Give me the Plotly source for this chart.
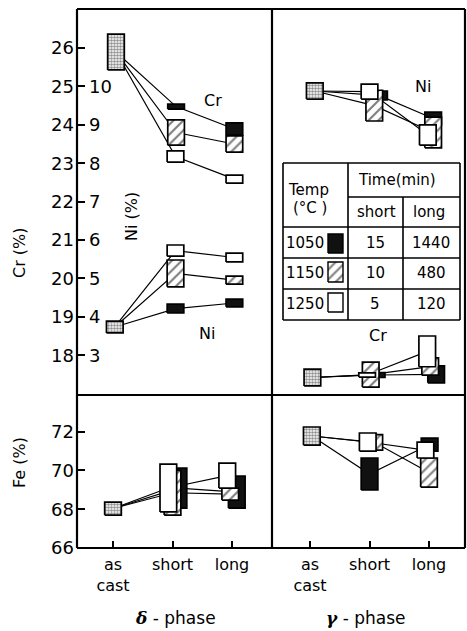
import plotly.graph_objects as go

# ---------------- data ----------------
CATEGORIES = ["as<br>cast", "short", "long"]
TEMPS = ["1050", "1150", "1250"]          # deg C
TIME_SHORT = ["15", "10", "5"]            # min
TIME_LONG = ["1440", "480", "120"]        # min

# composition ranges [low, high]; per-temperature rows: 1050, 1150, 1250
delta_cr_ascast = [25.43, 26.36]
delta_cr_short = [[24.41, 24.54], [23.47, 24.13], [23.03, 23.32]]
delta_cr_long = [[23.73, 24.05], [23.29, 23.71], [22.48, 22.69]]

delta_ni_ascast = [3.58, 3.89]
delta_ni_short = [[4.10, 4.33], [4.78, 5.48], [5.58, 5.87]]
delta_ni_long = [[4.26, 4.46], [4.85, 5.06], [5.43, 5.66]]

delta_fe_ascast = [67.70, 68.37]
delta_fe_short = [[68.06, 70.12], [67.70, 70.00], [67.86, 70.33]]
delta_fe_long = [[68.06, 69.71], [68.47, 69.09], [69.09, 70.38]]

gamma_ni_ascast = [9.67, 10.09]
gamma_ni_short = [[9.65, 9.88], [9.10, 9.90], [9.67, 10.06]]
gamma_ni_long = [[9.00, 9.33], [8.40, 9.20], [8.47, 9.00]]

gamma_cr_ascast = [17.20, 17.64]
gamma_cr_short = [[17.42, 17.55], [17.17, 17.82], [17.43, 17.54]]
gamma_cr_long = [[17.28, 17.72], [17.48, 17.93], [17.70, 18.50]]

gamma_fe_ascast = [71.31, 72.24]
gamma_fe_short = [[68.99, 70.64], [71.05, 71.85], [71.00, 71.93]]
gamma_fe_long = [[71.00, 71.67], [69.14, 70.64], [70.64, 71.46]]

CR_TICKS = [18, 19, 20, 21, 22, 23, 24, 25, 26]
NI_TICKS = [3, 4, 5, 6, 7, 8, 9, 10]
FE_TICKS = [66, 68, 70, 72]

# ---------------- layout / style ----------------
W, H = 467, 631
L, R, T, B = 77, 465, 9, 548
DIV_X, DIV_Y = 272, 395
XSPLIT = (DIV_X - L) / (R - L)
YSPLIT = (B - DIV_Y) / (B - T)
CR_RANGE = [16.964, 27.016]
NI_RANGE = [CR_RANGE[0] - 15, CR_RANGE[1] - 15]
FE_RANGE = [66, 73.89]
XD_RANGE = [-0.605, 2.672]
XG_RANGE = [-0.639, 2.605]
BOX_W = 0.28
FONT = "DejaVu Sans"

# horizontal offsets of boxes (style only): as cast, short[3], long[3]
OFFS = {
    "d_cr": (0.05, [0.06, 0.06, 0.05], [0.04, 0.04, 0.04]),
    "d_ni": (0.03, [0.05, 0.05, 0.05], [0.04, 0.04, 0.04]),
    "d_fe": (0.0, [0.10, 0.0, -0.07], [0.08, -0.03, -0.08]),
    "g_ni": (0.08, [0.16, 0.08, 0.0], [0.07, 0.07, -0.02]),
    "g_cr": (0.04, [0.12, 0.02, -0.04], [0.12, 0.02, -0.03]),
    "g_fe": (0.03, [0.0, 0.08, -0.03], [0.01, 0.0, -0.06]),
}


def box_style(kind):
    if kind == "ascast":
        return dict(fillcolor="white",
                    fillpattern=dict(shape=".", fgcolor="#222", bgcolor="white",
                                     size=3, solidity=0.55))
    if kind == 0:
        return dict(fillcolor="#111111")
    if kind == 1:
        return dict(fillcolor="white",
                    fillpattern=dict(shape="/", fgcolor="black", bgcolor="white",
                                     size=7, solidity=0.3))
    return dict(fillcolor="white")


fig = go.Figure()


def add_box(xc, lo, hi, kind, xa, ya, w=BOX_W):
    fig.add_trace(go.Scatter(
        x=[xc - w / 2, xc + w / 2, xc + w / 2, xc - w / 2, xc - w / 2],
        y=[lo, lo, hi, hi, lo], mode="lines", fill="toself",
        line=dict(color="black", width=1.7), xaxis=xa, yaxis=ya,
        hoverinfo="skip", showlegend=False, **box_style(kind)))


def mid(r):
    return (r[0] + r[1]) / 2


def add_panel(key, ascast, short, long_, xa, ya):
    oa, os_, ol = OFFS[key]
    # connecting lines first (boxes drawn over them)
    for i in range(3):
        fig.add_trace(go.Scatter(
            x=[0 + oa, 1 + os_[i], 2 + ol[i]],
            y=[mid(ascast), mid(short[i]), mid(long_[i])],
            mode="lines", line=dict(color="black", width=1.2),
            xaxis=xa, yaxis=ya, hoverinfo="skip", showlegend=False))
    add_box(0 + oa, ascast[0], ascast[1], "ascast", xa, ya)
    for i in range(3):
        add_box(1 + os_[i], short[i][0], short[i][1], i, xa, ya)
    for i in range(3):
        add_box(2 + ol[i], long_[i][0], long_[i][1], i, xa, ya)


add_panel("d_cr", delta_cr_ascast, delta_cr_short, delta_cr_long, "x", "y")
add_panel("d_ni", delta_ni_ascast, delta_ni_short, delta_ni_long, "x", "y3")
add_panel("d_fe", delta_fe_ascast, delta_fe_short, delta_fe_long, "x", "y2")
add_panel("g_cr", gamma_cr_ascast, gamma_cr_short, gamma_cr_long, "x2", "y")
add_panel("g_ni", gamma_ni_ascast, gamma_ni_short, gamma_ni_long, "x2", "y3")
add_panel("g_fe", gamma_fe_ascast, gamma_fe_short, gamma_fe_long, "x2", "y2")


# pixel helpers for the legend table (layout only)
def pxx(px):
    return (px - L) / (R - L)


def pxy(py):
    return (B - py) / (B - T)


def gx(px):  # pixel -> gamma x data
    return XG_RANGE[0] + (px - DIV_X) / (R - DIV_X) * (XG_RANGE[1] - XG_RANGE[0])


def gy(py):  # pixel -> Cr data
    top, bot = T, DIV_Y
    return CR_RANGE[1] - (py - top) / (bot - top) * (CR_RANGE[1] - CR_RANGE[0])


# table swatches
SW_X = (328, 343)
SW_Y = [(234, 253), (262, 282), (293, 312)]
for i in range(3):
    x0, x1 = gx(SW_X[0]), gx(SW_X[1])
    y0, y1 = gy(SW_Y[i][1]), gy(SW_Y[i][0])
    fig.add_trace(go.Scatter(
        x=[x0, x1, x1, x0, x0], y=[y0, y0, y1, y1, y0], mode="lines",
        fill="toself", line=dict(color="black", width=1.4), xaxis="x2",
        yaxis="y", hoverinfo="skip", showlegend=False, **box_style(i)))

shapes = []
LW = 2.2


def line(x0, y0, x1, y1, w=LW):
    shapes.append(dict(type="line", xref="paper", yref="paper",
                       x0=pxx(x0), y0=pxy(y0), x1=pxx(x1), y1=pxy(y1),
                       line=dict(color="black", width=w)))


# frame
line(L, T, R, T)
line(L, B, R, B)
line(L, T, L, B)
line(R, T, R, B)
line(DIV_X, T, DIV_X, B)
line(L, DIV_Y, R, DIV_Y)

# table grid
TL, TR, TC1, TC2 = 283, 460, 348, 403
TROWS = [163, 227, 258, 289, 320]
TW = 1.6
line(TL, TROWS[0], TR, TROWS[0], TW)
for yy in TROWS[1:]:
    line(TL, yy, TR, yy, TW)
line(TC1, 197, TR, 197, TW)
line(TL, TROWS[0], TL, TROWS[-1], TW)
line(TR, TROWS[0], TR, TROWS[-1], TW)
line(TC1, TROWS[0], TC1, TROWS[-1], TW)
line(TC2, 197, TC2, TROWS[-1], TW)

ann = []


def text(px, py, s, size=15, angle=0, xanchor="center"):
    ann.append(dict(x=pxx(px), y=pxy(py), xref="paper", yref="paper", text=s,
                    showarrow=False, textangle=angle, xanchor=xanchor,
                    yanchor="middle", font=dict(family=FONT, size=size, color="black")))


text(308, 190, "Temp")
text(310, 208, "(°C )")
text(397, 180, "Time(min)")
text(376, 212, "short")
text(429, 212, "long")
row_y = [243, 273, 304]
for i in range(3):
    text(284, row_y[i], TEMPS[i], xanchor="left")
    text(375, row_y[i], TIME_SHORT[i])
    text(431, row_y[i], TIME_LONG[i])

text(213, 101, "Cr", 16)
text(207, 333, "Ni", 16)
text(423, 86, "Ni", 16)
text(378, 335, "Cr", 16)
text(19, 253, "Cr (%)", 16, -90)
text(132, 217, "Ni (%)", 16, -90)
text(19, 463, "Fe (%)", 16, -90)
text(175, 618, "<span style='font-family:DejaVu Serif'><b><i>δ</i></b></span> - phase", 17)
text(365, 618, "<span style='font-family:DejaVu Serif'><b><i>γ</i></b></span> - phase", 17)

tickfont = dict(family=FONT, size=18, color="black")
xcommon = dict(tickmode="array", tickvals=[0, 1, 2], ticktext=CATEGORIES,
               ticks="inside", ticklen=7, tickwidth=1.5, tickcolor="black",
               showgrid=False, zeroline=False, showline=False, anchor="y2",
               tickfont=dict(family=FONT, size=16, color="black"),
               ticklabelstandoff=5, automargin=False)

fig.update_layout(
    width=W, height=H, paper_bgcolor="white", plot_bgcolor="white",
    margin=dict(l=L, r=W - R, t=T, b=H - B), showlegend=False,
    xaxis=dict(domain=[0, XSPLIT], range=XD_RANGE, **xcommon),
    xaxis2=dict(domain=[XSPLIT, 1], range=XG_RANGE, **xcommon),
    yaxis=dict(domain=[YSPLIT, 1], range=CR_RANGE, anchor="x",
               tickmode="array", tickvals=CR_TICKS, ticks="inside", ticklen=8,
               tickwidth=1.5, tickcolor="black", tickfont=tickfont,
               showgrid=False, zeroline=False, showline=False,
               ticklabelstandoff=2, automargin=False),
    yaxis3=dict(overlaying="y", range=NI_RANGE, anchor="x", side="left",
                tickmode="array", tickvals=NI_TICKS, ticks="",
                ticklabelposition="inside", tickfont=tickfont,
                showgrid=False, zeroline=False, showline=False,
                ticklabelstandoff=9, automargin=False),
    yaxis2=dict(domain=[0, YSPLIT], range=FE_RANGE, anchor="x",
                tickmode="array", tickvals=FE_TICKS, ticks="inside", ticklen=8,
                tickwidth=1.5, tickcolor="black", tickfont=tickfont,
                showgrid=False, zeroline=False, showline=False,
                ticklabelstandoff=2, automargin=False),
    shapes=shapes, annotations=ann,
)

fig.write_html("out.html")
